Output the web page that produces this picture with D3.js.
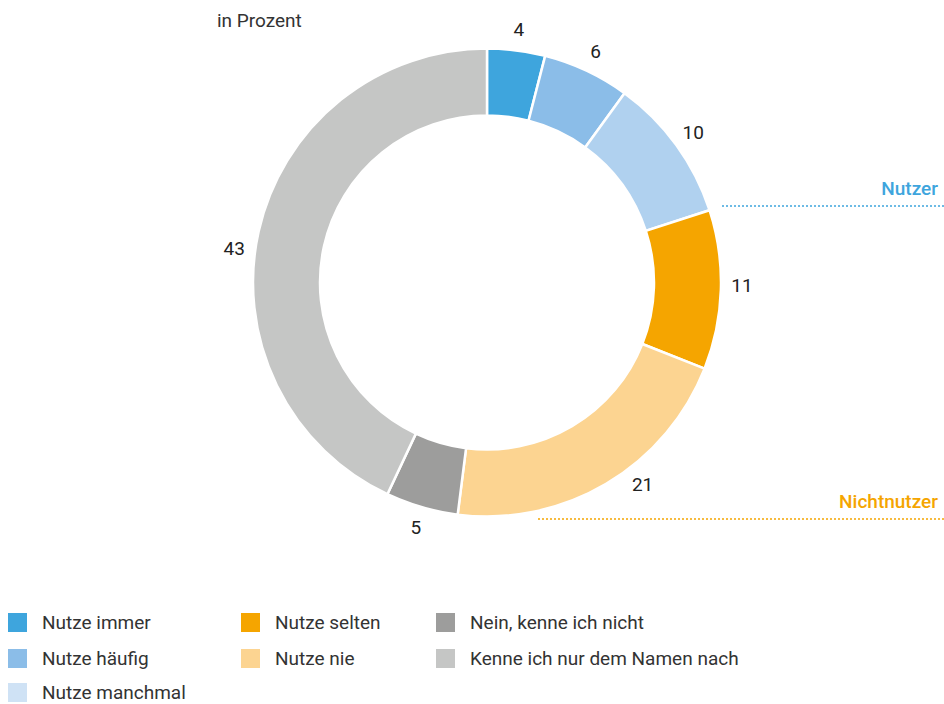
<!DOCTYPE html>
<html>
<head>
<meta charset="utf-8">
<script src="https://cdn.jsdelivr.net/npm/d3@7"></script>
<style>
    body { margin: 0; background: #fff; }
    svg { display: block; font-family: Roboto, "Noto Sans", sans-serif; }
</style>
</head>
<body>
<div id="chart"></div>
<script>
const categories = ['Nutze immer', 'Nutze häufig', 'Nutze manchmal', 'Nutze selten', 'Nutze nie', 'Nein, kenne ich nicht', 'Kenne ich nur dem Namen nach'];
const values = [4, 6, 10, 11, 21, 5, 43];
const colors = ['#3ea5dd', '#8bbde8', '#b0d1ef', '#f5a500', '#fcd491', '#9d9d9c', '#c5c6c5'];
const legendColors = ['#3ea5dd', '#8bbde8', '#cfe2f5', '#f5a500', '#fcd491', '#9d9d9c', '#c5c6c5'];
const groupLabels = ['Nutzer', 'Nichtnutzer'];
const groupColors = ['#3ea5dd', '#f5a500'];

const width = 944, height = 704;
const cx = 487, cy = 282.5;
const outerR = 234, innerR = 167, labelR = 255;
const fontSize = 19;

const svg = d3.select('#chart').append('svg')
    .attr('width', width)
    .attr('height', height);

svg.append('text')
    .attr('x', 217).attr('y', 27)
    .attr('font-size', fontSize).attr('fill', '#333')
    .text('in Prozent');

const pie = d3.pie().sort(null).value(d => d);
const arcs = pie(values);
const arc = d3.arc().innerRadius(innerR).outerRadius(outerR);

const g = svg.append('g').attr('transform', `translate(${cx},${cy})`);

g.selectAll('path')
    .data(arcs)
    .enter()
    .append('path')
    .attr('d', arc)
    .attr('fill', (d, i) => colors[i])
    .attr('stroke', '#fff')
    .attr('stroke-width', 2.5);

// value labels around the ring; a few are shifted a bit like in the original (degrees)
const nudge = { 3: -1.2, 4: -7, 6: -5 };
g.selectAll('.val')
    .data(arcs)
    .enter()
    .append('text')
    .attr('class', 'val')
    .each(function (d, i) {
        const a = (d.startAngle + d.endAngle) / 2 + (nudge[i] || 0) * Math.PI / 180;
        d3.select(this)
            .attr('x', labelR * Math.sin(a))
            .attr('y', -labelR * Math.cos(a));
    })
    .attr('text-anchor', 'middle')
    .attr('dominant-baseline', 'central')
    .attr('font-size', fontSize)
    .attr('fill', '#222')
    .text(d => d.data);

// group separators (Nutzer / Nichtnutzer)
const sepY = [206, 519];
const sepX = [722, 538];
groupLabels.forEach((lab, k) => {
    svg.append('line')
        .attr('x1', sepX[k]).attr('x2', width)
        .attr('y1', sepY[k]).attr('y2', sepY[k])
        .attr('stroke', groupColors[k])
        .attr('stroke-width', 1.5)
        .attr('stroke-dasharray', '2,2');
    svg.append('text')
        .attr('x', 938).attr('y', sepY[k] - 11)
        .attr('text-anchor', 'end')
        .attr('font-size', fontSize)
        .attr('font-weight', 500)
        .attr('fill', groupColors[k])
        .text(lab);
});

// legend, three columns
const colX = [8, 241, 436];
const rowY = [613, 649, 683];
const colOf = [0, 0, 0, 1, 1, 2, 2];
const rowOf = [0, 1, 2, 0, 1, 0, 1];

const item = svg.append('g').selectAll('g')
    .data(categories)
    .enter()
    .append('g')
    .attr('transform', (d, i) => `translate(${colX[colOf[i]]},${rowY[rowOf[i]]})`);

item.append('rect')
    .attr('width', 19).attr('height', 19)
    .attr('fill', (d, i) => legendColors[i]);

item.append('text')
    .attr('x', 34).attr('y', 9.5)
    .attr('dominant-baseline', 'central')
    .attr('font-size', fontSize)
    .attr('fill', '#333')
    .text(d => d);
</script>
</body>
</html>
